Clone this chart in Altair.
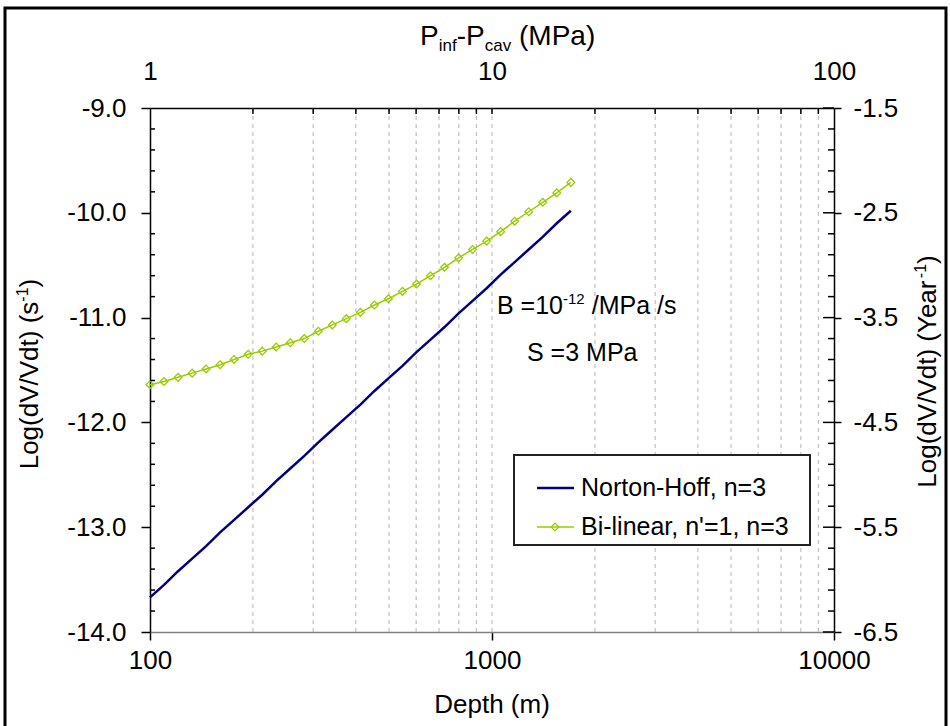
import altair as alt
import pandas as pd

# ---------------- data ----------------
depth_m = [100, 109.9, 120.8, 132.8, 145.9, 160.3, 176.2, 193.7, 212.9, 233.9,
           257.1, 282.6, 310.6, 341.3, 375.1, 412.3, 453.1, 498.0, 547.3, 601.5,
           661.1, 726.6, 798.5, 877.6, 964.6, 1060.1, 1165.1, 1280.5, 1407.3,
           1546.7, 1700]
norton_hoff = [-13.67, -13.55, -13.42, -13.30, -13.18, -13.05, -12.93, -12.81,
               -12.69, -12.56, -12.44, -12.32, -12.19, -12.07, -11.95, -11.83,
               -11.70, -11.58, -11.46, -11.33, -11.21, -11.09, -10.96, -10.84,
               -10.72, -10.59, -10.47, -10.35, -10.23, -10.10, -9.98]
bilinear = [-11.64, -11.61, -11.57, -11.53, -11.49, -11.45, -11.40, -11.35,
            -11.32, -11.28, -11.24, -11.20, -11.13, -11.07, -11.01, -10.95,
            -10.88, -10.82, -10.75, -10.68, -10.60, -10.52, -10.43, -10.35,
            -10.27, -10.18, -10.08, -9.99, -9.90, -9.81, -9.71]

grid_depths = [200, 300, 400, 500, 600, 700, 800, 900, 1000,
               2000, 3000, 4000, 5000, 6000, 7000, 8000, 9000]
x_major = [100, 1000, 10000]
top_major = [1, 10, 100]
y_major = [-14, -13, -12, -11, -10, -9]
y_minor = [-13.8, -13.6, -13.4, -13.2, -12.8, -12.6, -12.4, -12.2,
           -11.8, -11.6, -11.4, -11.2, -10.8, -10.6, -10.4, -10.2,
           -9.8, -9.6, -9.4, -9.2]
right_major = [-6.5, -5.5, -4.5, -3.5, -2.5, -1.5]
top_domain = [1, 100]
right_domain = [-6.5, -1.5]

series_names = ["Norton-Hoff, n=3", "Bi-linear, n'=1, n=3"]
BLUE = "#000080"
GREEN = "#99cc00"
FONT = "Liberation Sans"
LBL = 26

W, H = 684, 524

xs = alt.Scale(type="log", domain=[100, 10000], nice=False)
ys = alt.Scale(domain=[-14, -9], nice=False, zero=False)

HYPHEN_1F = "replace(format(datum.value, '.1f'), '\u2212', '-')"

xaxis = alt.Axis(values=x_major, format="d", title=None, grid=False, orient="bottom",
                 tickSize=8, tickColor="black", tickWidth=1.5,
                 domainColor="#808080", domainWidth=1.5, labelFlush=False,
                 labelFontSize=LBL, labelFont=FONT, labelColor="black", labelPadding=7)
yaxis = alt.Axis(values=y_major, labelExpr=HYPHEN_1F, title=None, grid=False,
                 orient="left", tickSize=9, tickColor="black", tickWidth=1.5,
                 domainColor="black", domainWidth=1.5,
                 labelFontSize=LBL, labelFont=FONT, labelColor="black", labelPadding=15)


def X(field):
    return alt.X(field, type="quantitative", scale=xs, axis=xaxis)


def Y(field):
    return alt.Y(field, type="quantitative", scale=ys, axis=yaxis)


one = pd.DataFrame({"k": [0]})


def txt(s, x, y, size=25, angle=0, align="left", baseline="alphabetic"):
    return alt.Chart(pd.DataFrame({"t": [s]})).mark_text(
        font=FONT, fontSize=size, angle=angle, align=align, baseline=baseline,
        color="black").encode(text="t:N", x=alt.value(x), y=alt.value(y))


# frame round the whole picture
frame = alt.Chart(one).mark_rect(fill=None, stroke="black", strokeWidth=3).encode(
    x=alt.value(-145), x2=alt.value(796), y=alt.value(-100), y2=alt.value(640))

grid = alt.Chart(pd.DataFrame({"depth": grid_depths})).mark_rule(
    color="#b4b4b4", strokeWidth=1, strokeDash=[4, 4]).encode(
    x=X("depth"), y=alt.value(0), y2=alt.value(H))

df = pd.DataFrame({"depth": depth_m, "nh": norton_hoff, "bl": bilinear})
nh_line = alt.Chart(df).mark_line(color=BLUE, strokeWidth=2.5).encode(
    x=X("depth"), y=Y("nh"))
bl_line = alt.Chart(df).mark_line(color=GREEN, strokeWidth=1.5).encode(
    x=X("depth"), y=Y("bl"))
bl_pts = alt.Chart(df).mark_point(shape="diamond", size=60, filled=False,
                                  color=GREEN, strokeWidth=1.3, opacity=1).encode(
    x=X("depth"), y=Y("bl"))

# inward minor ticks
left_minor = alt.Chart(pd.DataFrame({"v": y_minor})).mark_rule(
    color="black", strokeWidth=1.5).encode(y=Y("v"), x=alt.value(0), x2=alt.value(5))
right_minor = alt.Chart(pd.DataFrame({"v": y_minor})).mark_rule(
    color="black", strokeWidth=1.5).encode(y=Y("v"), x=alt.value(W - 6), x2=alt.value(W))
right_major_in = alt.Chart(pd.DataFrame({"v": y_major})).mark_rule(
    color="black", strokeWidth=1.5).encode(y=Y("v"), x=alt.value(W - 11), x2=alt.value(W))
top_minor = alt.Chart(pd.DataFrame({"depth": grid_depths})).mark_rule(
    color="black", strokeWidth=1.5).encode(x=X("depth"), y=alt.value(0), y2=alt.value(6))

# legend (drawn by hand)
leg_box = alt.Chart(one).mark_rect(fill="white", stroke="#222222", strokeWidth=2).encode(
    x=alt.value(364), x2=alt.value(660), y=alt.value(347), y2=alt.value(437))
leg_blue = alt.Chart(one).mark_rule(color=BLUE, strokeWidth=2.5).encode(
    x=alt.value(387), x2=alt.value(424), y=alt.value(380))
leg_green = alt.Chart(one).mark_rule(color=GREEN, strokeWidth=1.5).encode(
    x=alt.value(387), x2=alt.value(424), y=alt.value(419))
leg_dia = alt.Chart(one).mark_point(shape="diamond", size=60, filled=False, color=GREEN,
                                    strokeWidth=1.3, opacity=1).encode(
    x=alt.value(405), y=alt.value(419))
leg_t1 = txt(series_names[0], 431, 380, baseline="middle")
leg_t2 = txt(series_names[1], 431, 419, baseline="middle")

# titles
top_title = [
    txt("P", 270, -63, 28), txt("inf", 288.7, -57, 17), txt("-P", 306.7, -63, 28),
    txt("cav", 334.7, -57, 17), txt("(MPa)", 369.0, -63, 28)]
bottom_title = txt("Depth (m)", W / 2, 597, 26, align="center", baseline="middle")
left_title = [
    txt("Log(dV/Vdt) (s", -120, 361.3, 26, angle=270, baseline="middle"),
    txt("-1", -127, 193.7, 16, angle=270, baseline="middle"),
    txt(")", -120, 179.5, 26, angle=270, baseline="middle")]
right_title = [
    txt("Log(dV/Vdt) (Year", 778, 379.7, 26, angle=270, baseline="middle"),
    txt("-1", 771, 170.2, 16, angle=270, baseline="middle"),
    txt(")", 778, 156.0, 26, angle=270, baseline="middle")]

# annotations
notes = [
    txt("B =10", 347, 206), txt("-12", 413, 196, 15), txt("/MPa /s", 441.7, 206),
    txt("S =3 MPa", 377, 253)]

main = alt.layer(frame, grid, nh_line, bl_line, bl_pts, left_minor, right_minor,
                 right_major_in, top_minor, leg_box, leg_blue, leg_green, leg_dia,
                 leg_t1, leg_t2, bottom_title, *top_title, *left_title,
                 *right_title, *notes)

dummy = alt.Chart(pd.DataFrame({"p": top_domain, "r": right_domain})).mark_point(
    opacity=0).encode(
    x=alt.X("p:Q", scale=alt.Scale(type="log", domain=[1, 100], nice=False),
            axis=alt.Axis(values=top_major, format="d", title=None, grid=False,
                          orient="top", ticks=False, tickSize=0,
                          domainColor="black", domainWidth=1.5, labelFlush=False,
                          labelFontSize=LBL, labelFont=FONT, labelColor="black",
                          labelPadding=24)),
    y=alt.Y("r:Q", scale=alt.Scale(domain=[-6.5, -1.5], nice=False, zero=False),
            axis=alt.Axis(values=right_major, labelExpr=HYPHEN_1F, title=None,
                          grid=False, orient="right", tickSize=7, tickColor="black",
                          tickWidth=1.5, domainColor="black", domainWidth=1.5,
                          labelFontSize=LBL, labelFont=FONT, labelColor="black",
                          labelPadding=12)))

chart = alt.layer(main, dummy).resolve_scale(x="independent", y="independent").properties(
    width=W, height=H,
    autosize=alt.AutoSizeParams(type="none"),
    padding={"left": 150, "top": 108, "right": 116, "bottom": 94},
    background="white",
).configure_view(stroke=None)

chart.save("out.html", embed_options={"renderer": "svg", "actions": False})
